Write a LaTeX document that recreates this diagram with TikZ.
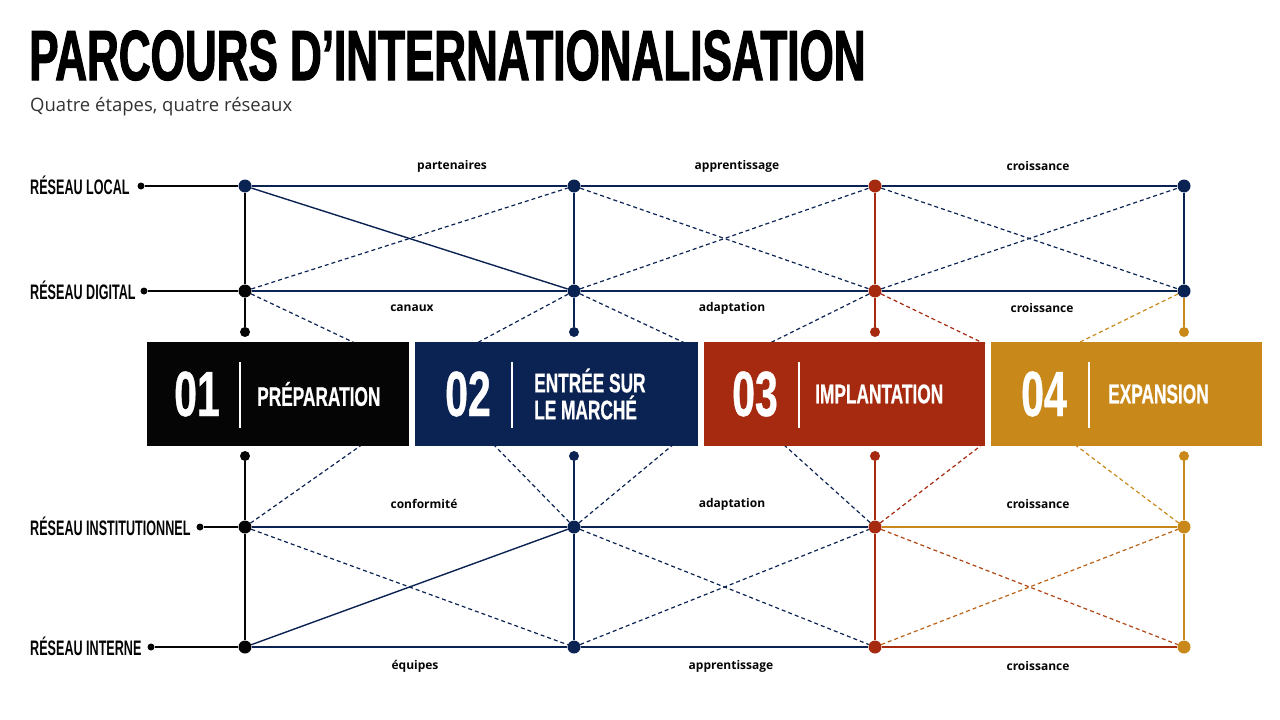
\documentclass[tikz,border=0pt]{standalone}
\usepackage{fontspec}
\usepackage{xcolor}
\setmainfont{Open Sans}
\newfontfamily\condfont[FakeStretch=0.6]{Liberation Sans}
\newfontfamily\boxfont[FakeStretch=0.64,FakeBold=0.6]{Liberation Sans}
\newfontfamily\headfont[FakeStretch=0.62,FakeBold=1.5]{Liberation Sans}
\definecolor{stepblack}{HTML}{050505}
\definecolor{stepnavy}{HTML}{0B2352}
\definecolor{stepred}{HTML}{A52A10}
\definecolor{stepgold}{HTML}{C8891A}
\definecolor{subgray}{HTML}{333333}
\tikzset{
  bigdot/.style={circle,fill=#1,inner sep=0pt,minimum size=13pt},
  smalldot/.style={circle,fill=#1,inner sep=0pt,minimum size=10pt},
  enddot/.style={circle,fill=stepblack,inner sep=0pt,minimum size=7pt},
  link/.style={draw=#1,line width=1.4pt},
  dashlink/.style={draw=#1,line width=1.2pt,dash pattern=on 4pt off 3pt},
  edgetext/.style={font=\bfseries\fontsize{12}{14}\selectfont,text=stepblack,inner sep=0pt},
  nettext/.style={font=\condfont\bfseries\fontsize{21}{21}\selectfont,text=stepblack,anchor=base west,inner sep=0pt},
  stepbox/.style={fill=#1,minimum height=104pt,inner sep=0pt},
  numtext/.style={font=\boxfont\bfseries\fontsize{64}{64}\selectfont,text=white,inner sep=0pt},
  steptext/.style={font=\boxfont\bfseries\fontsize{27}{27}\selectfont,text=white,anchor=west,align=left,inner sep=0pt},
  divider/.style={draw=white,line width=1.5pt}
}
\begin{document}
\begin{tikzpicture}[x=1pt,y=-1pt]
\useasboundingbox (0,0) rectangle (1280,720);

\node[font=\headfont\bfseries\fontsize{71}{71}\selectfont,anchor=base west,inner sep=0pt] (title) at (29,80) {PARCOURS D’INTERNATIONALISATION};
\node[font=\fontsize{18.5}{22}\selectfont,text=subgray,anchor=base west,inner sep=0pt] (subtitle) at (30,111) {Quatre étapes, quatre réseaux};

\node[nettext] (netlocal) at (30,194) {RÉSEAU LOCAL};
\node[nettext] (netdigital) at (30,299) {RÉSEAU DIGITAL};
\node[nettext] (netinst) at (30,535) {RÉSEAU INSTITUTIONNEL};
\node[nettext] (netinterne) at (30,655) {RÉSEAU INTERNE};

\node[enddot] (e1) at (141,186) {};
\node[enddot] (e2) at (144,291) {};
\node[enddot] (e3) at (200,527) {};
\node[enddot] (e4) at (151,647) {};

\node[bigdot=stepnavy] (l1) at (245,186) {};
\node[bigdot=stepblack] (d1) at (245,291) {};
\node[smalldot=stepblack] (t1) at (245,332) {};
\node[smalldot=stepblack] (b1) at (245,456) {};
\node[bigdot=stepblack] (i1) at (245,527) {};
\node[bigdot=stepblack] (n1) at (245,647) {};

\node[bigdot=stepnavy] (l2) at (574,186) {};
\node[bigdot=stepnavy] (d2) at (574,291) {};
\node[smalldot=stepnavy] (t2) at (574,332) {};
\node[smalldot=stepnavy] (b2) at (574,456) {};
\node[bigdot=stepnavy] (i2) at (574,527) {};
\node[bigdot=stepnavy] (n2) at (574,647) {};

\node[bigdot=stepred] (l3) at (875,186) {};
\node[bigdot=stepred] (d3) at (875,291) {};
\node[smalldot=stepred] (t3) at (875,332) {};
\node[smalldot=stepred] (b3) at (875,456) {};
\node[bigdot=stepred] (i3) at (875,527) {};
\node[bigdot=stepred] (n3) at (875,647) {};

\node[bigdot=stepnavy] (l4) at (1184,186) {};
\node[bigdot=stepnavy] (d4) at (1184,291) {};
\node[smalldot=stepgold] (t4) at (1184,332) {};
\node[smalldot=stepgold] (b4) at (1184,456) {};
\node[bigdot=stepgold] (i4) at (1184,527) {};
\node[bigdot=stepgold] (n4) at (1184,647) {};

\draw[link=stepblack] (e1) -- (l1);
\draw[link=stepblack] (e2) -- (d1);
\draw[link=stepblack] (e3) -- (i1);
\draw[link=stepblack] (e4) -- (n1);

\draw[link=stepblack] (l1) -- (d1) -- (t1);
\draw[link=stepblack] (b1) -- (i1) -- (n1);
\draw[link=stepnavy] (l2) -- (d2) -- (t2);
\draw[link=stepnavy] (b2) -- (i2) -- (n2);
\draw[link=stepred] (l3) -- (d3) -- (t3);
\draw[link=stepred] (b3) -- (i3) -- (n3);
\draw[link=stepnavy] (l4) -- (d4);
\draw[link=stepgold] (d4) -- (t4);
\draw[link=stepgold] (b4) -- (i4) -- (n4);

\draw[link=stepnavy] (l1) -- (l2) -- (l3) -- (l4);
\draw[link=stepnavy] (d1) -- (d2) -- (d3) -- (d4);
\draw[link=stepnavy] (i1) -- (i2) -- (i3);
\draw[link=stepgold] (i3) -- (i4);
\draw[link=stepnavy] (n1) -- (n2) -- (n3);
\draw[link=stepred] (n3) -- (n4);

\draw[link=stepnavy] (l1) -- (d2);
\draw[dashlink=stepnavy] (d1) -- (l2);
\draw[dashlink=stepnavy] (l2) -- (d3);
\draw[dashlink=stepnavy] (d2) -- (l3);
\draw[dashlink=stepnavy] (l3) -- (d4);
\draw[dashlink=stepnavy] (d3) -- (l4);

\draw[link=stepnavy] (n1) -- (i2);
\draw[dashlink=stepnavy] (i1) -- (n2);
\draw[dashlink=stepnavy] (i2) -- (n3);
\draw[dashlink=stepnavy] (n2) -- (i3);
\draw[dashlink=stepred!70!stepgold] (i3) -- (n4);
\draw[dashlink=stepred!40!stepgold] (n3) -- (i4);

\coordinate (s1) at (357,344);
\coordinate (s2) at (475,344);
\coordinate (s3) at (687,344);
\coordinate (s4) at (768,344);
\coordinate (s5) at (985,344);
\coordinate (s6) at (1076,344);
\draw[dashlink=stepnavy] (d1) -- (s1);
\draw[dashlink=stepnavy] (d2) -- (s2);
\draw[dashlink=stepnavy] (d2) -- (s3);
\draw[dashlink=stepnavy] (d3) -- (s4);
\draw[dashlink=stepred] (d3) -- (s5);
\draw[dashlink=stepgold] (d4) -- (s6);

\coordinate (u1) at (363,444);
\coordinate (u2) at (493,444);
\coordinate (u3) at (674,444);
\coordinate (u4) at (783,444);
\coordinate (u5) at (983,444);
\coordinate (u6) at (1074,444);
\draw[dashlink=stepnavy] (i1) -- (u1);
\draw[dashlink=stepnavy] (i2) -- (u2);
\draw[dashlink=stepnavy] (i2) -- (u3);
\draw[dashlink=stepnavy] (i3) -- (u4);
\draw[dashlink=stepred] (i3) -- (u5);
\draw[dashlink=stepgold] (i4) -- (u6);

\node[edgetext] (lab1) at (452,166) {partenaires};
\node[edgetext] (lab2) at (737,166) {apprentissage};
\node[edgetext] (lab3) at (1038,166) {croissance};
\node[edgetext] (lab4) at (412,308) {canaux};
\node[edgetext] (lab5) at (732,308) {adaptation};
\node[edgetext] (lab6) at (1042,308) {croissance};
\node[edgetext] (lab7) at (424,504) {conformité};
\node[edgetext] (lab8) at (732,504) {adaptation};
\node[edgetext] (lab9) at (1038,504) {croissance};
\node[edgetext] (lab10) at (415,666) {équipes};
\node[edgetext] (lab11) at (731,666) {apprentissage};
\node[edgetext] (lab12) at (1038,666) {croissance};

\node[stepbox=stepblack,minimum width=262pt] (box1) at (278,394) {};
\node[stepbox=stepnavy,minimum width=283pt] (box2) at (556.5,394) {};
\node[stepbox=stepred,minimum width=281pt] (box3) at (844.5,394) {};
\node[stepbox=stepgold,minimum width=271pt] (box4) at (1126.5,394) {};

\node[numtext] (num1) at (197,394) {01};
\node[numtext] (num2) at (468,394) {02};
\node[numtext] (num3) at (755,394) {03};
\node[numtext] (num4) at (1044,394) {04};

\draw[divider] (240,362) -- (240,428);
\draw[divider] (512,362) -- (512,428);
\draw[divider] (799,362) -- (799,428);
\draw[divider] (1089,362) -- (1089,428);

\node[steptext] (step1) at (257,394) {PRÉPARATION};
\node[steptext] (step2) at (534,394) {ENTRÉE SUR\\LE MARCHÉ};
\node[steptext] (step3) at (815,394) {IMPLANTATION};
\node[steptext] (step4) at (1108,394) {EXPANSION};
\end{tikzpicture}
\end{document}
